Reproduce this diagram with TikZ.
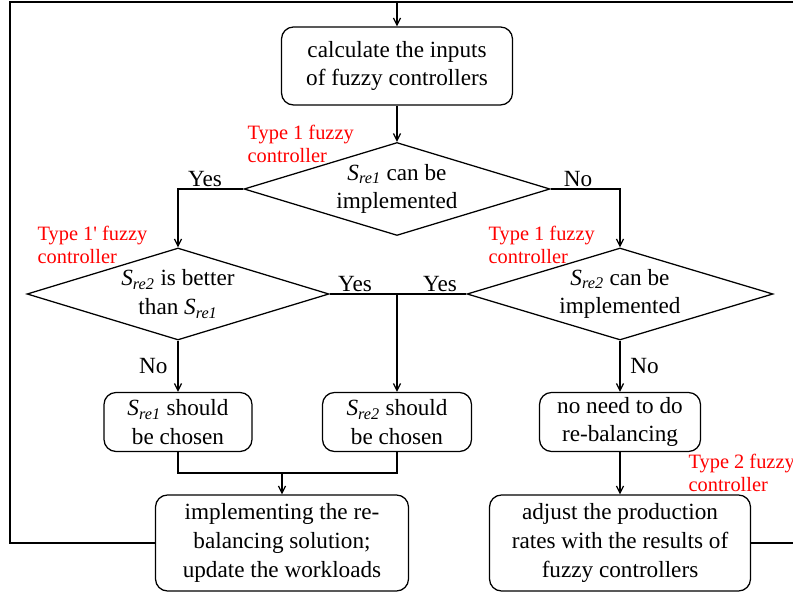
\documentclass[tikz,border=0pt]{standalone}
\usepackage{fontspec}
\setmainfont{Liberation Serif}
\newfontfamily\tnr{Liberation Serif}
\usetikzlibrary{shapes.geometric,arrows.meta}

\newcommand{\Sre}[1]{\textit{S}\textsubscript{\textit{re#1}}}

\tikzset{
  box/.style={draw, rounded corners=0.3cm, align=center, inner sep=0pt,
    line width=0.9pt, font=\tnr\fontsize{16.5}{20.5}\selectfont},
  test/.style={draw, diamond, aspect=3.3, align=center, inner sep=0pt,
    line width=0.9pt, font=\tnr\fontsize{16.5}{20.5}\selectfont},
  lbl/.style={inner sep=1pt, font=\tnr\fontsize{16.5}{20.5}\selectfont},
  note/.style={text=red, align=left, inner sep=0pt, anchor=west,
    font=\tnr\fontsize{14.5}{16.3}\selectfont},
}

\begin{document}
\begin{tikzpicture}[line width=0.9pt, >={Straight Barb[length=5pt,width=5pt]}]

    \clip (0,0) rectangle (19.825,-14.85);

    % --- Blocchi ---
    \node[box, minimum width=5.775cm, minimum height=1.95cm] (calc) at (9.925,-1.65)
      {calculate the inputs\\of fuzzy controllers};
    \node[test, minimum width=7.65cm, minimum height=2.325cm] (d1) at (9.925,-4.725)
      {\Sre{1} can be\\implemented};
    \node[test, minimum width=7.55cm, minimum height=2.3cm] (d2) at (4.45,-7.35)
      {\Sre{2} is better\\than \Sre{1}};
    \node[test, minimum width=7.65cm, minimum height=2.3cm] (d3) at (15.5,-7.35)
      {\Sre{2} can be\\implemented};
    \node[box, minimum width=3.7cm, minimum height=1.475cm] (s1) at (4.45,-10.55)
      {\Sre{1} should\\be chosen};
    \node[box, minimum width=3.725cm, minimum height=1.475cm] (s2) at (9.925,-10.55)
      {\Sre{2} should\\be chosen};
    \node[box, minimum width=4.025cm, minimum height=1.475cm] (nn) at (15.5,-10.55)
      {no need to do\\re-balancing};
    \node[box, minimum width=6.325cm, minimum height=2.4cm] (impl) at (7.05,-13.575)
      {implementing the re-\\balancing solution;\\update the workloads};
    \node[box, minimum width=6.525cm, minimum height=2.4cm] (adj) at (15.5,-13.575)
      {adjust the production\\rates with the results of\\fuzzy controllers};

    % --- Controllori fuzzy ---
    \node[note] (n1) at (6.175,-3.6) {Type 1 fuzzy\\controller};
    \node[note] (n2) at (0.925,-6.125) {Type 1' fuzzy\\controller};
    \node[note] (n3) at (12.2,-6.125) {Type 1 fuzzy\\controller};
    \node[note] (n4) at (17.2,-11.825) {Type 2 fuzzy\\controller};

    % --- Collegamenti ---
    \coordinate (top) at (9.925,-0.05);
    \coordinate (yj) at (9.925,-7.35);
    \coordinate (mrg) at (7.05,-11.825);

    \draw[->] (calc.south) -- (d1.north);
    \draw[->] (d1.west) -| (d2.north);
    \draw[->] (d1.east) -| (d3.north);
    \draw (d2.east) -- (d3.west);
    \draw[->] (yj) -- (s2.north);
    \draw[->] (d2.south) -- (s1.north);
    \draw[->] (d3.south) -- (nn.north);
    \draw (s1.south) |- (mrg) -| (s2.south);
    \draw[->] (mrg) -- (impl.north);
    \draw[->] (nn.south) -- (adj.north);

    % anelli di ritorno
    \draw[->] (impl.west) -- (0.25,-13.575) -- (0.25,-0.05) -- (top) -- (calc.north);
    \draw (adj.east) -- (20.5,-13.575) -- (20.5,-0.05) -- (top);

    % Etichette
    \node[lbl, above] (y1) at (5.125,-4.725) {Yes};
    \node[lbl, above] (n1l) at (14.45,-4.725) {No};
    \node[lbl, above] (y2) at (8.875,-7.35) {Yes};
    \node[lbl, above] (y3) at (11.0,-7.35) {Yes};
    \node[lbl, left, inner sep=7pt] (n2l) at (4.45,-9.15) {No};
    \node[lbl, right, inner sep=7pt] (n3l) at (15.5,-9.15) {No};

  \end{tikzpicture}
\end{document}
